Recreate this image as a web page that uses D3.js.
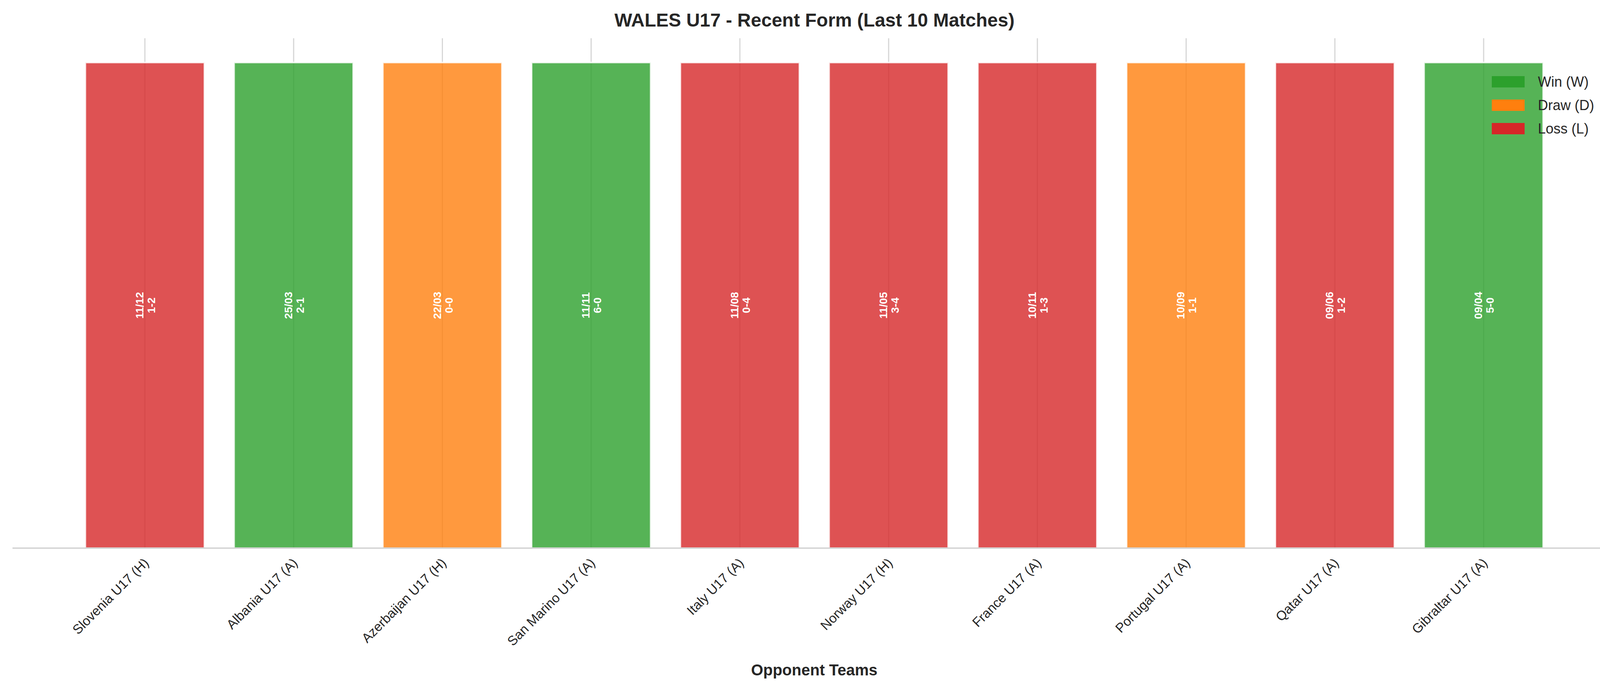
<!DOCTYPE html>
<html><head><meta charset="utf-8">
<script src="https://cdn.jsdelivr.net/npm/d3@7"></script>
<style>body{margin:0;background:#fff}</style></head>
<body><svg id="c" width="4170" height="1770"></svg>
<script>
const opponents=["Slovenia U17 (H)","Albania U17 (A)","Azerbaijan U17 (H)","San Marino U17 (A)","Italy U17 (A)","Norway U17 (H)","France U17 (A)","Portugal U17 (A)","Qatar U17 (A)","Gibraltar U17 (A)"];
const results=["L","W","D","W","L","L","L","D","L","W"];
const dates=["11/12","25/03","22/03","11/11","11/08","11/05","10/11","10/09","09/06","09/04"];
const scores=["1-2","2-1","0-0","6-0","0-4","3-4","1-3","1-1","1-2","5-0"];
const barValue=[1,1,1,1,1,1,1,1,1,1];
const legendLabels=["Win (W)","Draw (D)","Loss (L)"];
const colors={W:"#2ca02c",D:"#ff7f0e",L:"#d62728"};

(function(){
const svg=d3.select("#c");
const F="Liberation Sans, Arial, sans-serif";
const pl=32,pr=4137,pt=98,pb=1404;
const x=d3.scaleLinear().domain([-0.89,9.89]).range([pl,pr]);
const y=d3.scaleLinear().domain([0,1.05]).range([pb,pt]);
const bw=x(0.8)-x(0);
svg.append("g").selectAll("line").data(opponents).join("line")
 .attr("x1",(d,i)=>x(i)).attr("x2",(d,i)=>x(i)).attr("y1",pt).attr("y2",pb)
 .attr("stroke","#b0b0b0").attr("stroke-width",3).attr("opacity",0.5);
svg.append("g").selectAll("rect").data(barValue).join("rect")
 .attr("x",(d,i)=>x(i-0.4)).attr("width",bw).attr("y",d=>y(d)).attr("height",d=>y(0)-y(d))
 .attr("fill",(d,i)=>colors[results[i]]).attr("fill-opacity",0.8)
 .attr("stroke","#fff").attr("stroke-width",4).attr("stroke-opacity",0.8);
svg.append("line").attr("x1",pl).attr("x2",pr).attr("y1",pb).attr("y2",pb).attr("stroke","#cccccc").attr("stroke-width",3);
const lab=svg.append("g").selectAll("text").data(barValue).join("text")
 .attr("transform",(d,i)=>`translate(${x(i)},${y(d/2)}) rotate(-90)`)
 .attr("text-anchor","middle").attr("fill","#fff").attr("font-family",F).attr("font-weight","bold").attr("font-size",28);
lab.append("tspan").attr("x",0).attr("dy",-4).text((d,i)=>dates[i]);
lab.append("tspan").attr("x",0).attr("dy",30).text((d,i)=>scores[i]);
svg.append("g").selectAll("text").data(opponents).join("text")
 .attr("transform",(d,i)=>`translate(${x(i)+12},${pb+40}) rotate(-45)`)
 .attr("text-anchor","end").attr("font-family",F).attr("font-size",34).attr("fill","#262626").text(d=>d);
svg.append("text").attr("x",2085).attr("y",68).attr("text-anchor","middle").attr("font-family",F).attr("font-weight","bold").attr("font-size",48).attr("fill","#262626").text("WALES U17 - Recent Form (Last 10 Matches)");
svg.append("text").attr("x",(pl+pr)/2).attr("y",1730).attr("text-anchor","middle").attr("font-family",F).attr("font-weight","bold").attr("font-size",40).attr("fill","#262626").text("Opponent Teams");
const lg=svg.append("g").selectAll("g").data(legendLabels).join("g").attr("transform",(d,i)=>`translate(3819,${195+i*60})`);
lg.append("rect").attr("width",84).attr("height",29).attr("fill",(d,i)=>colors[["W","D","L"][i]]);
lg.append("text").attr("x",118).attr("y",27).attr("font-family",F).attr("font-size",36).attr("fill","#262626").text(d=>d);
})();
</script></body></html>
